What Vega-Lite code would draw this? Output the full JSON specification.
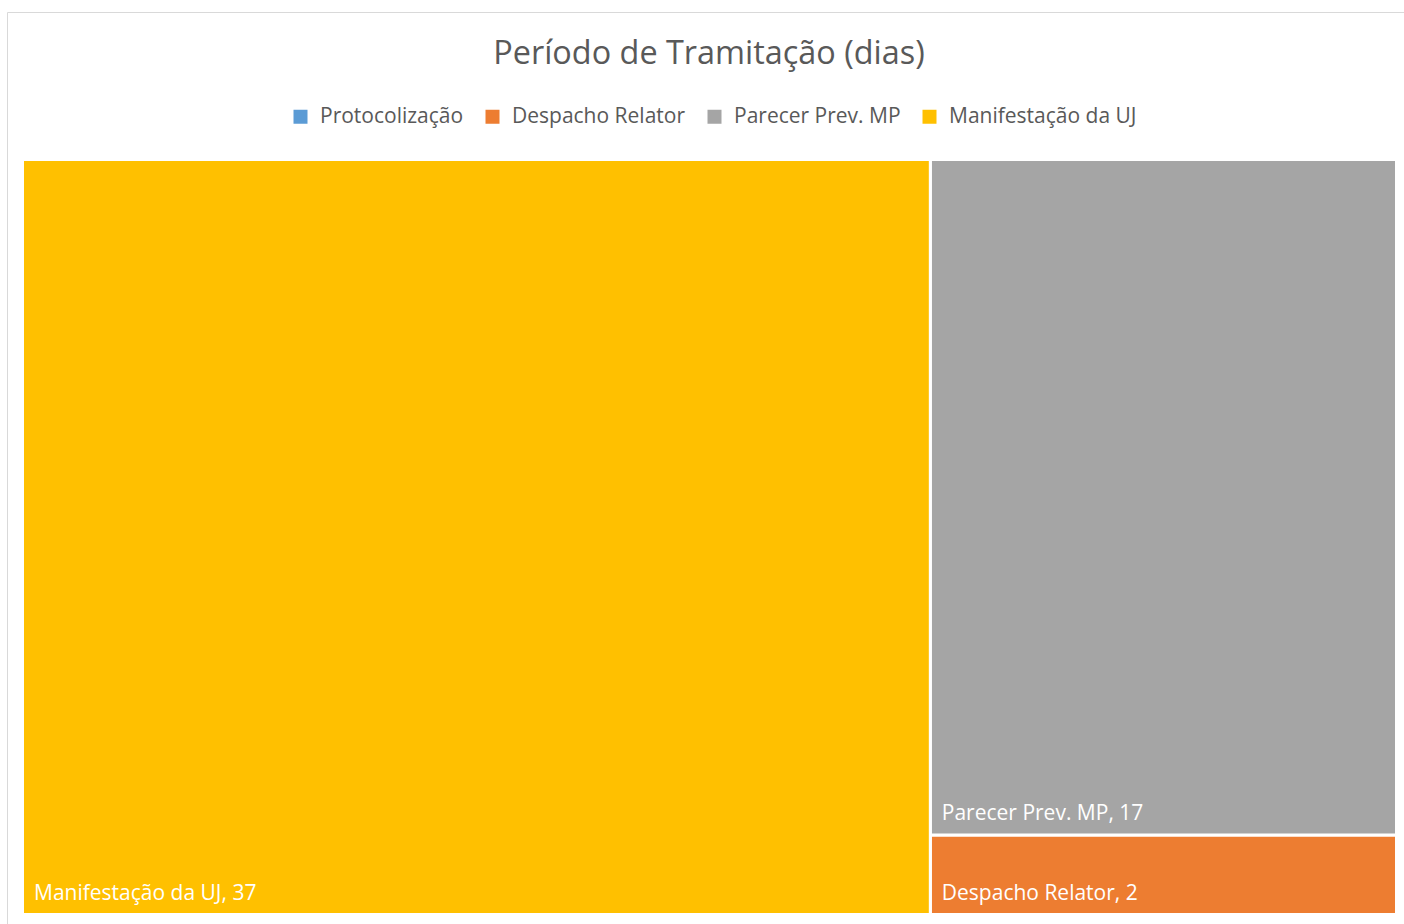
{
  "$schema": "https://vega.github.io/schema/vega-lite/v6.json",
  "autosize": {"type": "none"},
  "width": 1400,
  "height": 916,
  "padding": {"left": 7, "top": 12, "right": 0, "bottom": 0},
  "background": "white",
  "title": {
    "text": "Período de Tramitação (dias)",
    "orient": "top",
    "anchor": "middle",
    "offset": -58,
    "dx": 2,
    "font": "Open Sans",
    "fontSize": 32.4,
    "fontWeight": "normal",
    "color": "#595959"
  },
  "data": {
    "values": [
      {"category": "Protocolização", "days": 0, "column": "B"},
      {"category": "Despacho Relator", "days": 2, "column": "B"},
      {"category": "Parecer Prev. MP", "days": 17, "column": "B"},
      {"category": "Manifestação da UJ", "days": 37, "column": "A"}
    ]
  },
  "transform": [
    {"stack": "days", "groupby": [], "sort": [{"field": "column", "order": "ascending"}, {"field": "days", "order": "ascending"}], "as": ["xs0", "xs1"]},
    {"joinaggregate": [{"op": "min", "field": "xs0", "as": "c0"}, {"op": "max", "field": "xs1", "as": "c1"}], "groupby": ["column"]},
    {"stack": "days", "groupby": ["column"], "sort": [{"field": "days", "order": "ascending"}], "offset": "normalize", "as": ["r0", "r1"]},
    {"calculate": "datum.category + ', ' + datum.days", "as": "label"}
  ],
  "encoding": {
    "x": {"field": "c0", "type": "quantitative", "axis": null, "scale": {"nice": false, "zero": true, "range": [15.5, 1389.5]}},
    "y": {"field": "r0", "type": "quantitative", "axis": null, "scale": {"nice": false, "zero": true, "domain": [0, 1], "range": [902.5, 147.5]}}
  },
  "layer": [
    {
      "mark": {"type": "rect", "stroke": "white", "strokeWidth": 3},
      "encoding": {
        "x2": {"field": "c1"},
        "y2": {"field": "r1"},
        "color": {
          "field": "category",
          "type": "nominal",
          "scale": {
            "domain": ["Protocolização", "Despacho Relator", "Parecer Prev. MP", "Manifestação da UJ"],
            "range": ["#5B9BD5", "#ED7D31", "#A5A5A5", "#FFC000"]
          },
          "legend": {
            "title": null,
            "orient": "none",
            "direction": "horizontal",
            "legendX": 283,
            "legendY": 94,
            "symbolType": "square",
            "symbolSize": 196,
            "symbolStrokeWidth": 0,
            "symbolOpacity": 1,
            "labelFont": "Open Sans",
            "labelFontSize": 21,
            "labelColor": "#595959",
            "labelOffset": 9,
            "labelLimit": 500,
            "columnPadding": 18,
            "padding": 0
          }
        }
      }
    },
    {
      "transform": [{"filter": "datum.days > 0"}],
      "mark": {"type": "text", "align": "left", "baseline": "alphabetic", "dx": 11.5, "dy": -15, "font": "Open Sans", "fontSize": 21, "color": "white"},
      "encoding": {
        "text": {"field": "label"}
      }
    }
  ],
  "config": {
    "view": {"stroke": "#d9d9d9", "strokeWidth": 1}
  }
}
